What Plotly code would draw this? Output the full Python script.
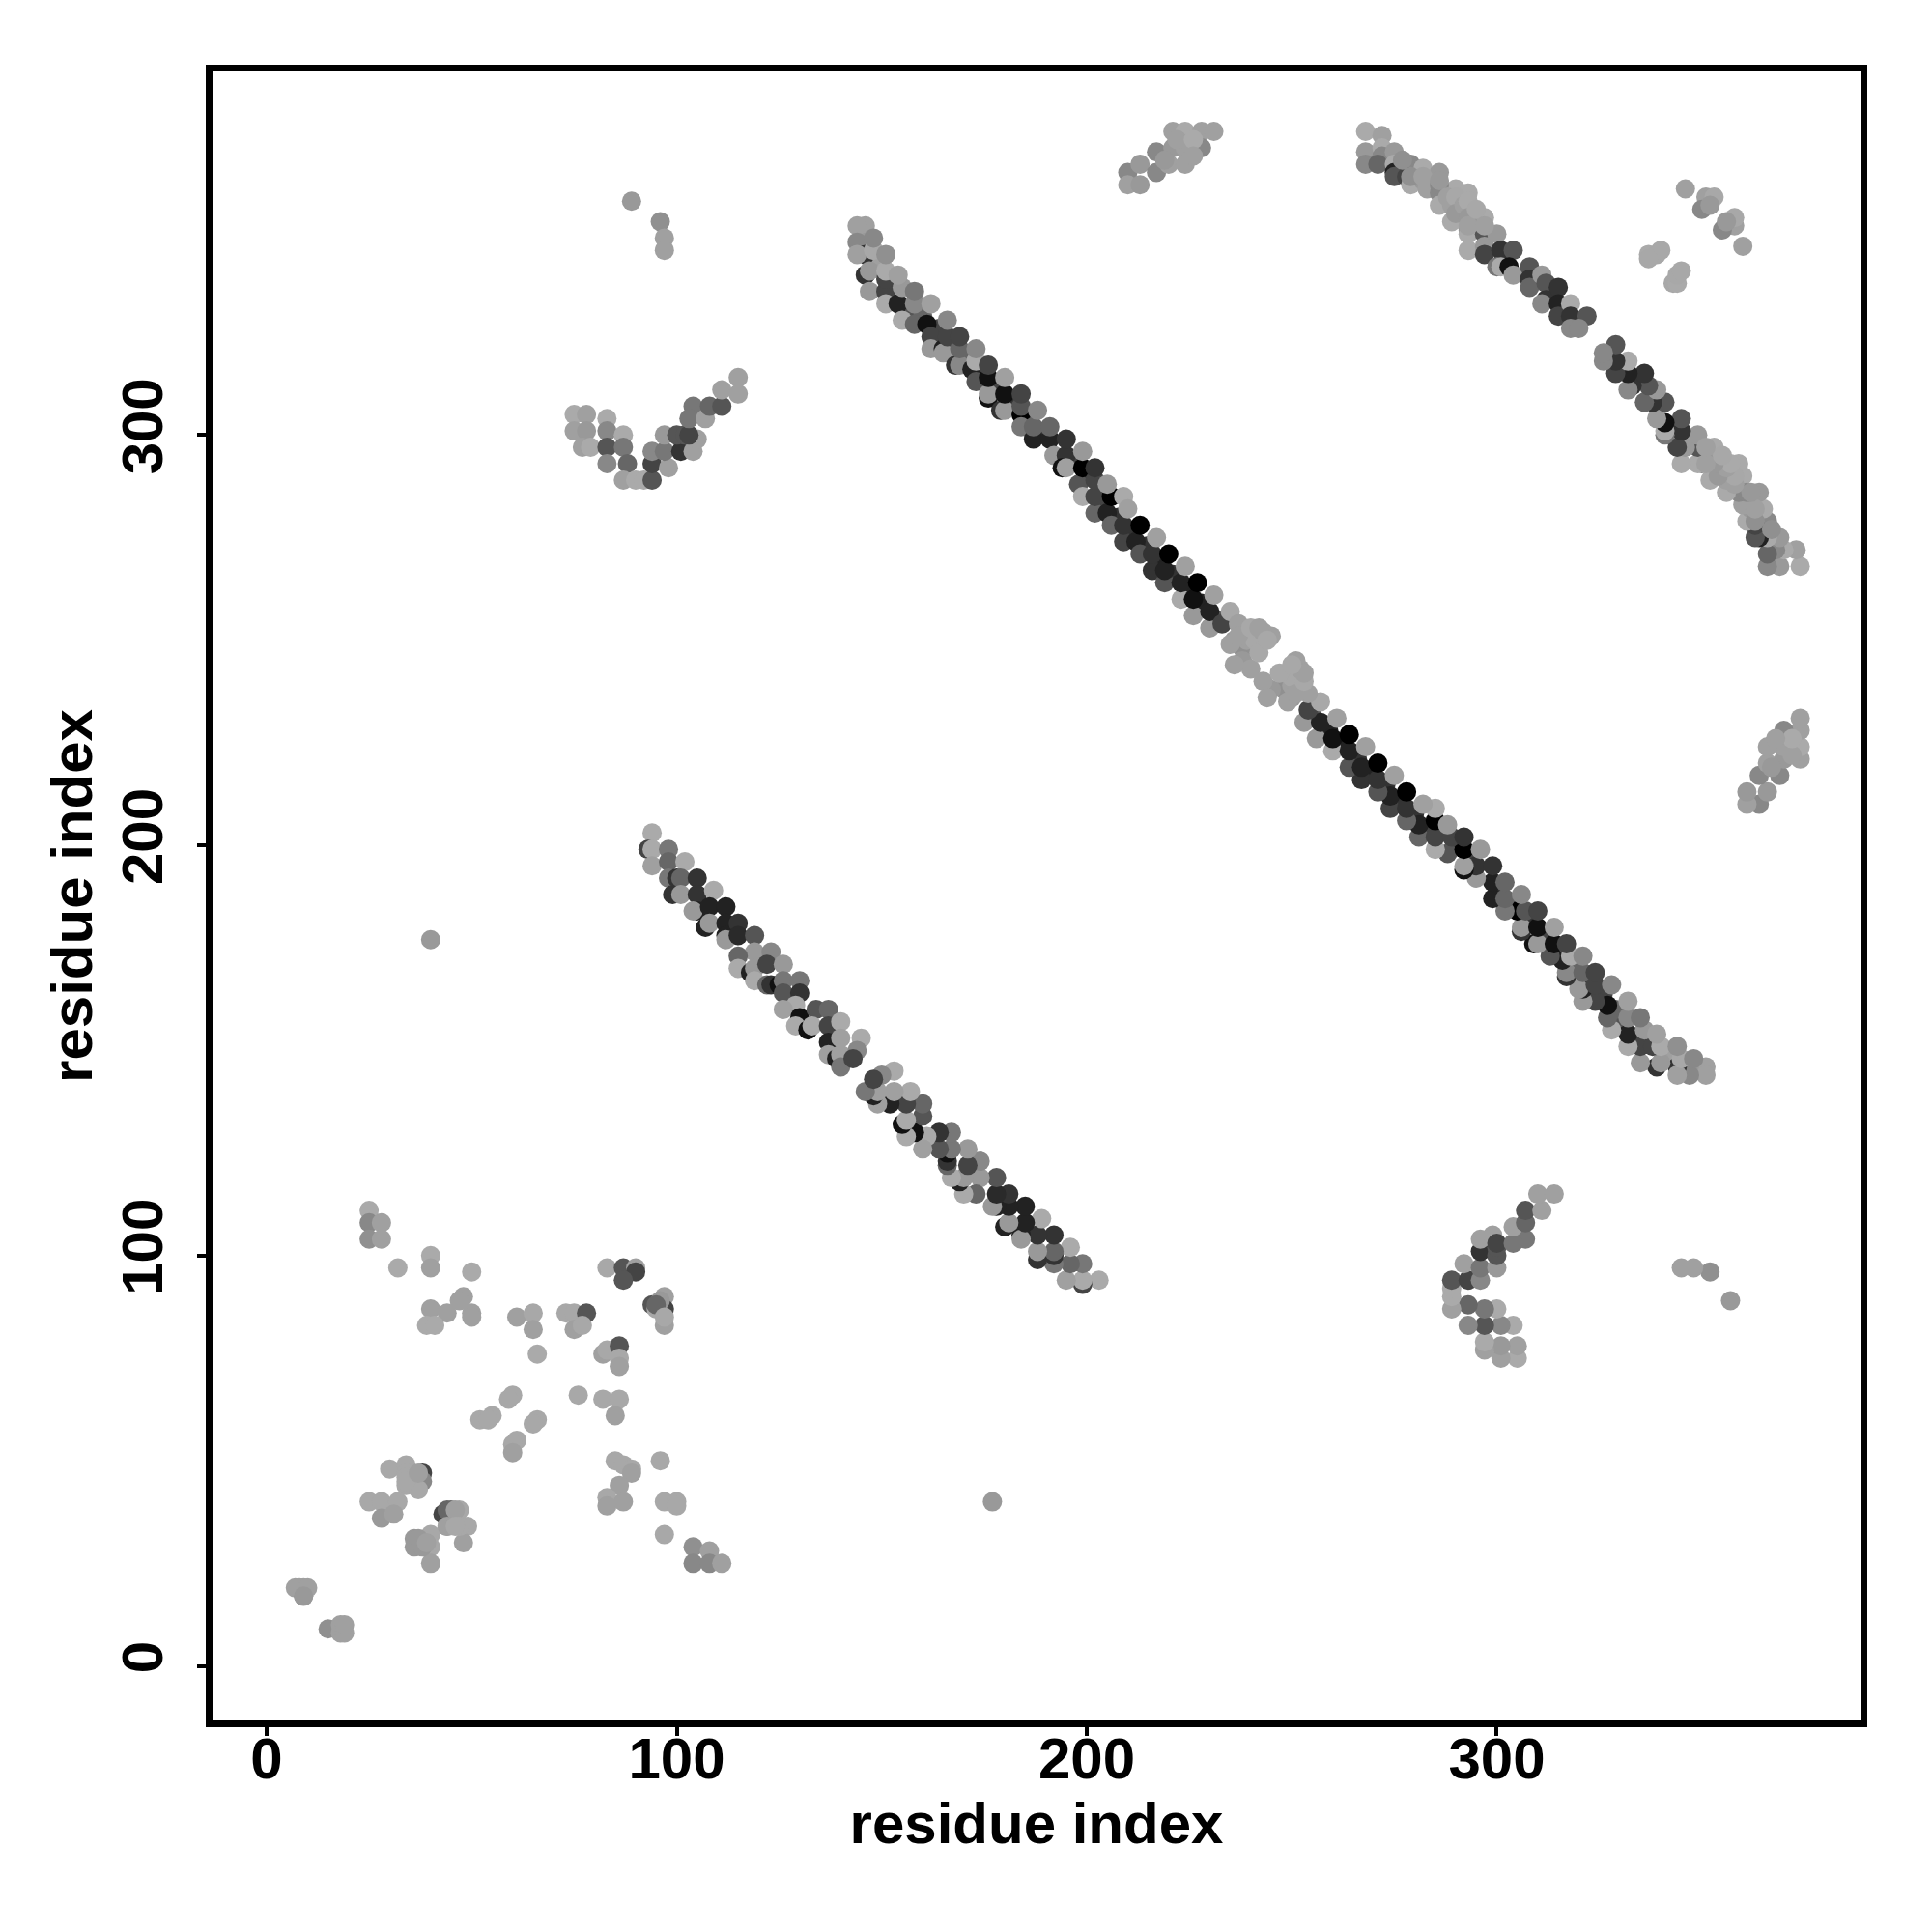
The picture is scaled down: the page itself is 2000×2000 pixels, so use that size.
import plotly.graph_objects as go

tick_vals = [0, 100, 200, 300]
axis_label = "residue index"

# long antiparallel band (upper half, mirrored across the diagonal when drawn)
main_i = [144,144,146,144,146,147,147,148,148,151,151,151,151,151,154,155,155,154,158,158,158,161,162,162,162,165,165,166,166,168,169,169,169,172,173,173,173,176,176,176,176,179,180,180,180,184,184,184,184,187,187,188,191,191,192,195,195,194,195,198,199,199,199,202,202,202,202,205,206,206,205,209,209,209,210,212,213,213,216,216,217,219,219,220,223,223,224,226,226,227,230,230,231,233,235,235,236,237,237,240,242,242,244]
main_j = [351,347,344,344,339,340,335,345,348,335,338,340,332,344,332,328,336,339,332,327,335,327,324,321,332,321,320,324,328,317,317,321,324,316,313,318,321,309,310,314,317,306,306,310,314,305,302,307,310,299,302,306,299,302,295,295,299,292,292,288,285,292,296,281,285,289,292,281,278,285,288,274,278,285,282,274,271,278,267,271,275,264,267,271,260,264,268,256,260,264,253,257,261,254,249,257,244,254,251,253,247,253,250]
main_v = [160,136,51,160,51,153,153,168,136,68,68,170,170,144,34,170,153,160,136,102,119,17,68,153,160,34,153,68,136,51,136,102,68,34,85,170,136,17,153,17,68,51,153,17,160,0,119,85,68,34,102,136,34,102,153,51,51,17,160,85,170,0,153,102,68,68,51,34,102,0,153,68,51,170,160,34,85,0,51,51,160,85,34,0,170,34,160,153,17,0,153,34,160,68,160,168,160,160,160,168,168,160,168]

# further contacts read from the dense stretches of the long band
main_fill_i = [146,146,150,156,160,164,171,178,182,186,190,197,200,204,208,211,215,218,221,225,228,232,236,238,239,241,243,245,238,240]
main_fill_j = [351,347,342,330,329,326,319,312,308,304,300,294,290,283,280,276,273,269,266,262,259,255,250,248,250,250,252,251,245,243]
main_fill_v = [160,153,160,85,102,68,102,68,51,102,51,68,51,68,51,51,51,34,51,34,34,85,153,144,160,168,160,160,153,160]

# second antiparallel band (upper half)
second_i = [94,93,94,94,98,98,98,102,99,100,101,101,105,105,105,104,109,108,107,108,112,112,112,112,115,115,119,119,115,115,118,119,119,123,122,122,123,125,126,126,126,130,130,129,126,130,129,132,134,133,137,137,137,137,140,140,139,140,140,145,144,143]
second_j = [203,199,199,195,199,196,192,196,188,192,192,188,192,188,184,184,189,185,180,181,185,181,178,177,181,178,178,174,173,170,169,170,167,174,171,166,166,166,171,167,164,167,164,161,160,158,156,155,160,156,160,156,152,149,157,153,148,149,146,153,150,148]
second_v = [170,68,170,160,119,102,119,170,51,51,102,153,51,51,34,153,170,34,34,153,34,34,34,153,51,42,85,153,102,170,34,153,170,136,68,102,51,17,153,119,85,119,51,170,160,17,170,17,85,170,102,68,34,160,170,160,34,160,119,170,136,68]

# third antiparallel band (upper half)
third_i = [268,268,268,272,272,272,271,275,275,275,275,279,278,279,282,282,283,286,286,286,290,289,289,293,293,293,293,293,297,297,297,297,300,301,300,301,304,303,304,308,308,308,311,312,312,311,315,315,315,318,318,318,322,320]
third_j = [374,369,366,373,370,368,366,369,366,364,363,366,363,361,365,362,360,364,359,356,360,356,352,359,355,350,349,345,353,349,346,344,349,345,341,341,345,341,339,341,338,336,339,337,333,332,336,332,329,332,329,326,329,326]
third_v = [170,153,136,160,170,136,102,153,170,34,85,136,68,170,170,153,160,153,136,170,170,160,170,170,170,136,170,170,170,85,153,68,153,51,119,170,85,17,153,85,51,102,153,85,51,136,51,34,68,170,51,136,85,136]

# further contacts read from the pale, dense stretch of the third band
third_fill_i = [279,282,286,286,288,290,290,292,293,293,293,295,297,277]
third_fill_j = [363,363,361,362,358,358,354,356,357,353,351,355,351,367]
third_fill_v = [144,160,136,153,160,168,153,160,170,153,160,168,160,144]

# arc near the top
arc_i = [210,210,213,213,217,217,220,221,221,224,224,224,228,228,231,219,222,226,226]
arc_j = [364,361,361,366,369,364,366,374,370,374,370,366,374,370,374,367,372,372,368]
arc_v = [136,160,153,153,136,136,160,160,153,170,160,160,160,136,160,153,160,170,160]

# V-shaped group
vee_i = [75,78,75,78,77,79,83,83,83,83,87,87,88,87,90,92,94,94,94,98,97,97,101,100,102,104,105,103,104,103,107,108,111,111,115,115]
vee_j = [305,305,301,301,297,297,304,301,297,293,300,297,293,289,289,289,289,293,296,292,296,300,296,300,300,296,299,300,307,304,304,307,307,311,310,314]
vee_v = [170,160,160,153,160,170,170,136,85,136,170,119,102,160,170,170,85,68,136,160,119,153,51,85,85,160,160,68,119,119,160,102,85,160,160,160]

# isolated pairs and the group near the far corner
single_i = [89,96,97,97,40,346,351,353,350,352,337,339,340,343]
single_j = [357,352,348,345,177,360,358,358,355,356,344,344,345,337]
single_v = [153,144,160,160,153,160,160,168,136,153,170,168,168,168]

# group near the origin, listed in full because it holds both triangles
near_x = [25,25,28,25,28,32,40,40,50,40,44,39,41,48,47,50,50,61,65,65,66,73,75,78,75,77,83,87,90,90,87,94,97,97,95,97,82,83,86,86,86,76,82,86,85,60,59,55,52,54,66,65,61,60,60,85,87,89,89,96,86,83,83,87,97,100,100,97,104,108,104,108,111,30,34,34,34,38,38,37,25,28,32,28,31,43,45,47,44,49,48,36,40,36,40,40,7,9,9,15,18,18,34,34,37,44,46,47,44,46,38,37,39,8,10,9,19,19,96,95,97]
near_y = [111,108,108,104,104,97,100,97,96,87,86,83,83,90,89,86,85,85,86,82,76,86,86,86,82,83,97,97,97,96,94,88,90,87,87,83,76,77,78,75,73,66,65,65,61,66,65,61,60,60,60,59,55,54,52,50,49,48,47,50,44,41,39,40,40,40,39,32,29,28,25,25,25,48,49,47,44,47,45,43,40,40,40,36,37,37,38,38,34,34,30,31,32,29,29,25,19,19,17,9,10,8,46,45,47,38,38,34,34,34,29,31,30,19,19,17,8,10,89,88,85]
near_v = [170,136,160,144,160,170,170,160,170,160,160,170,170,160,160,160,160,160,168,160,170,168,168,85,160,168,168,85,160,68,85,85,160,68,168,160,160,168,85,168,160,168,168,168,160,168,168,168,168,168,168,168,168,168,160,168,168,168,160,168,160,168,160,160,168,168,168,168,144,160,136,136,160,168,168,168,168,68,136,168,168,168,168,153,160,68,102,168,160,168,160,153,168,153,168,160,160,160,136,144,160,160,168,168,160,102,160,168,160,168,153,153,160,160,160,153,160,160,153,102,168]

mirrored_i = main_fill_i + main_i + second_i + third_i + third_fill_i + arc_i + vee_i + single_i
mirrored_j = main_fill_j + main_j + second_j + third_j + third_fill_j + arc_j + vee_j + single_j
mirrored_v = main_fill_v + main_v + second_v + third_v + third_fill_v + arc_v + vee_v + single_v

xs = near_x + mirrored_i + mirrored_j
ys = near_y + mirrored_j + mirrored_i
vs = near_v + mirrored_v + mirrored_v

fig = go.Figure(go.Scatter(
    x=xs, y=ys, mode="markers",
    marker=dict(size=20, color=vs, cmin=0, cmax=255,
                colorscale=[[0, "#000000"], [1, "#ffffff"]],
                showscale=False, line=dict(width=0), opacity=1),
    hoverinfo="skip",
))

font = dict(family="Liberation Sans", size=60, color="black", weight="bold")
axis = dict(
    tickmode="array", tickvals=tick_vals, ticktext=[str(v) for v in tick_vals],
    ticks="outside", ticklen=9, tickwidth=4, tickcolor="black",
    showline=True, linewidth=7, linecolor="black", mirror=True,
    showgrid=False, zeroline=False, tickfont=font,
)
fig.update_layout(
    width=2000, height=2000, autosize=False,
    paper_bgcolor="white", plot_bgcolor="white", showlegend=False,
    margin=dict(l=211.5, r=81.5, t=66, b=227, autoexpand=False),
    xaxis=dict(range=[-13.2, 388.7], ticklabelstandoff=-28,
               title=dict(text=axis_label, font=font, standoff=12), **axis),
    yaxis=dict(range=[-13.3, 388.6], tickangle=-90, ticklabelstandoff=12,
               title=dict(text=axis_label, font=font, standoff=2), **axis),
)
fig.write_html("out.html")
